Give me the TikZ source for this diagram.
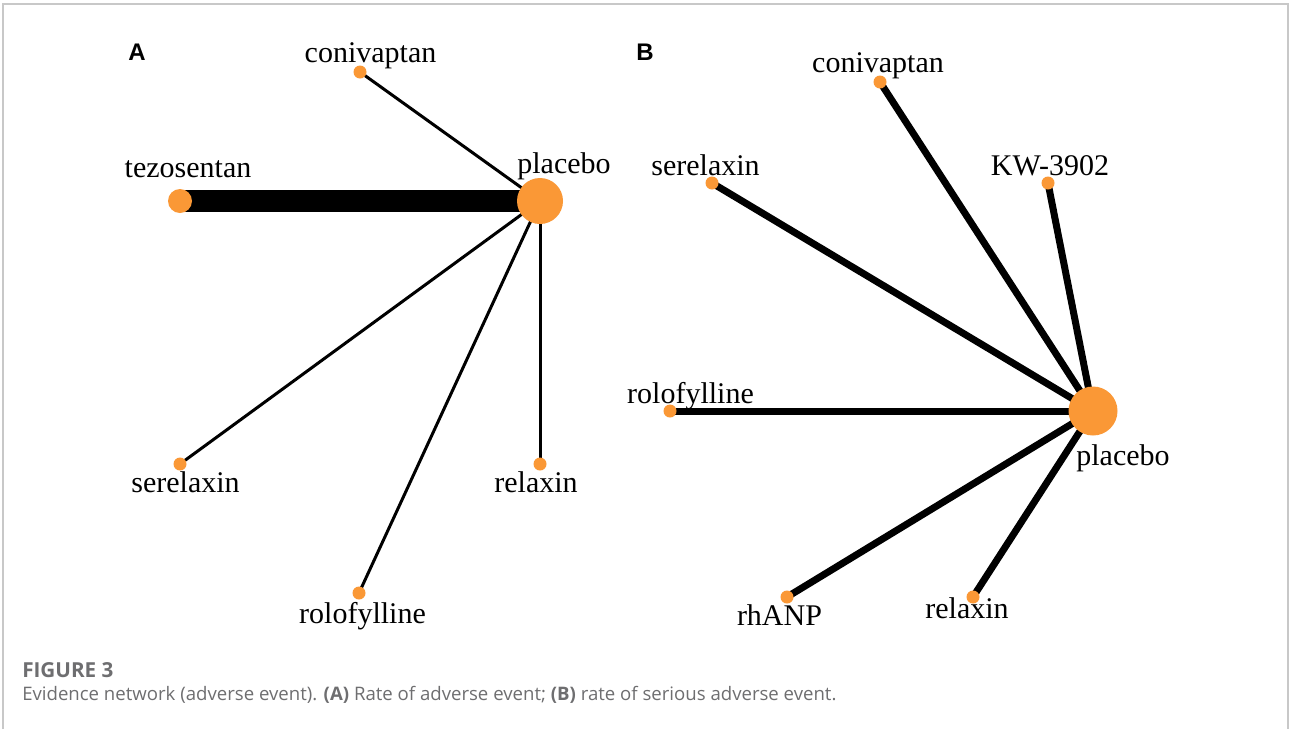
\documentclass[tikz,border=0pt]{standalone}
\usepackage{fontspec}
\setmainfont{Liberation Serif}
\newfontfamily\capfont{Open Sans}
\newfontfamily\panelfont{Liberation Sans}
\pgfdeclarelayer{background}
\pgfdeclarelayer{canvas}
\pgfsetlayers{canvas,background,main}
\definecolor{nodeorange}{RGB}{250,152,54}
\definecolor{capgray}{RGB}{110,110,112}
\definecolor{framegray}{RGB}{200,200,200}
\tikzset{
  dot/.style={circle, fill=nodeorange, inner sep=0pt, minimum size=9.75pt},
  bigdot/.style={circle, fill=nodeorange, inner sep=0pt, minimum size=34.5pt},
  meddot/.style={circle, fill=nodeorange, inner sep=0pt, minimum size=18pt},
  lbl/.style={anchor=base, inner sep=0pt, font=\fontsize{22.5}{24}\selectfont},
  panel/.style={anchor=base, inner sep=0pt, font=\panelfont\bfseries\fontsize{18}{20}\selectfont},
  thin edge/.style={line width=2.25pt, black},
  heavy edge/.style={line width=16.5pt, black},
  thick edge/.style={line width=5.25pt, black},
  captext/.style={anchor=base west, inner sep=0pt, text=capgray},
}
\begin{document}
\begin{tikzpicture}[x=0.75pt,y=-0.75pt]
\useasboundingbox (0,0) rectangle (1290,729);
\begin{pgfonlayer}{canvas}
\fill[white] (0,0) rectangle (1290,729);
\draw[framegray, line width=1.2pt] (3,729) -- (3,4) -- (1288,4) -- (1288,729);
\end{pgfonlayer}

% Panel A
\node[panel] (pA) at (137,60) {A};
\node[bigdot] (Aplac) at (540,201) {};
\node[dot] (Aconi) at (360,72) {};
\node[meddot] (Atezo) at (180,201) {};
\node[dot] (Asere) at (180,464) {};
\node[dot] (Arolo) at (359,593) {};
\node[dot] (Arelx) at (540,464) {};
\node[lbl] (lAplac) at (564,173) {placebo};
\node[lbl] (lAconi) at (370.5,62) {conivaptan};
\node[lbl] (lAtezo) at (188,177) {tezosentan};
\node[lbl] (lAsere) at (185.5,492) {serelaxin};
\node[lbl] (lArolo) at (362.5,623) {rolofylline};
\node[lbl] (lArelx) at (536,492) {relaxin};
\begin{pgfonlayer}{background}
\draw[thin edge] (Aplac.center) -- (Aconi.center);
\draw[heavy edge] (Aplac.center) -- (Atezo.center);
\draw[thin edge] (Aplac.center) -- (Asere.center);
\draw[thin edge] (Aplac.center) -- (Arolo.center);
\draw[thin edge] (Aplac.center) -- (Arelx.center);
\end{pgfonlayer}

% Panel B
\node[panel] (pB) at (645,60) {B};
\node[bigdot, minimum size=36.75pt] (Bplac) at (1093,411) {};
\node[dot] (Bconi) at (880,82) {};
\node[dot] (Bkw) at (1048,183) {};
\node[dot] (Bsere) at (712,183) {};
\node[dot] (Brolo) at (670,411) {};
\node[dot] (Brh) at (787,597) {};
\node[dot] (Brelx) at (973,597) {};
\node[lbl] (lBplac) at (1123,465) {placebo};
\node[lbl] (lBconi) at (878,72) {conivaptan};
\node[lbl] (lBkw) at (1050,175) {KW-3902};
\node[lbl] (lBsere) at (705.5,175) {serelaxin};
\node[lbl] (lBrolo) at (690.5,403) {rolofylline};
\node[lbl] (lBrh) at (779.5,625) {rhANP};
\node[lbl] (lBrelx) at (967,618) {relaxin};
\begin{pgfonlayer}{background}
\draw[thick edge] (Bplac.center) -- (Bconi.center);
\draw[thick edge] (Bplac.center) -- (Bkw.center);
\draw[thick edge] (Bplac.center) -- (Bsere.center);
\draw[thick edge] (Bplac.center) -- (Brolo.center);
\draw[thick edge] (Bplac.center) -- (Brh.center);
\draw[thick edge] (Bplac.center) -- (Brelx.center);
\end{pgfonlayer}

% Caption
\node[captext, font=\capfont\bfseries\fontsize{15.5}{17}\selectfont] (capt) at (22,677) {FIGURE 3};
\node[captext, font=\capfont\fontsize{13.95}{16}\selectfont] (capb) at (22,700) {Evidence network (adverse event). \textbf{(A)} Rate of adverse event; \textbf{(B)} rate of serious adverse event.};
\end{tikzpicture}
\end{document}
